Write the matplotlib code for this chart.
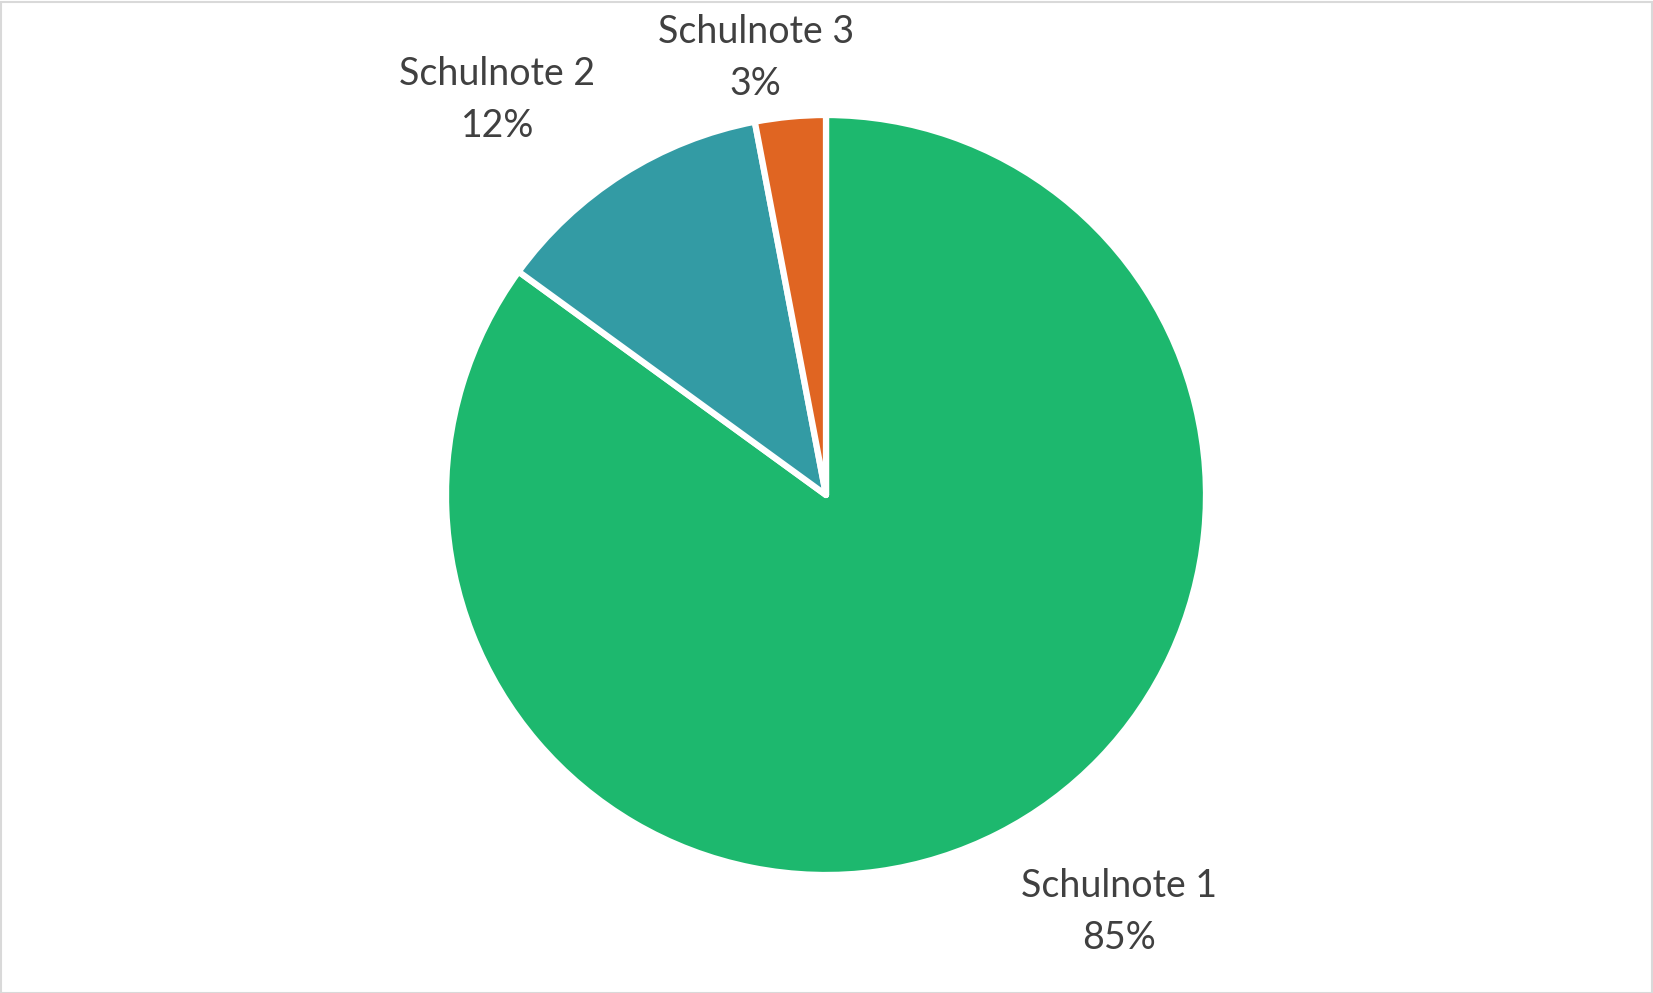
import matplotlib
matplotlib.use("Agg")
import matplotlib.pyplot as plt
from matplotlib.patches import Rectangle

categories = ["Schulnote 1", "Schulnote 2", "Schulnote 3"]
values = [85, 12, 3]
colors = ["#1DB86E", "#339BA4", "#E06522"]

plt.rcParams['font.family'] = ['Lato', 'DejaVu Sans']

W, H = 1653, 993
fig = plt.figure(figsize=(W / 100, H / 100), dpi=100)
fig.patch.set_facecolor("white")

cx, cy, r = 826, 495, 380
ax = fig.add_axes([(cx - r) / W, (H - cy - r) / H, 2 * r / W, 2 * r / H])
wedges, _ = ax.pie(values, colors=colors, startangle=90, counterclock=False,
                   radius=1, wedgeprops=dict(edgecolor="white", linewidth=4.5, joinstyle="round"))
ax.set_xlim(-1, 1)
ax.set_ylim(-1, 1)
ax.set_aspect("equal")
ax.axis("off")

label_pos = [(0.772, -1.098), (-0.865, 1.040), (-0.185, 1.151)]
total = sum(values)
for cat, v, (x, y) in zip(categories, values, label_pos):
    ax.text(x, y, f"{cat}\n{round(100 * v / total)}%", ha="center", va="center",
            fontsize=27, color="#404040", linespacing=1.55, clip_on=False)

fig.patches.append(Rectangle((0.5 / W, 0.5 / H), 1 - 2 / W, 1 - 2 / H, transform=fig.transFigure,
                             fill=False, edgecolor="#D9D9D9", linewidth=1.5))

fig.savefig("out.png", dpi=100, facecolor="white")
